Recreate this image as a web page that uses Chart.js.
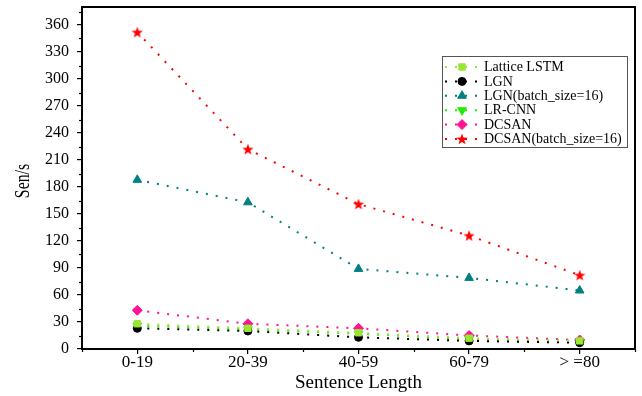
<!DOCTYPE html>
<html><head><meta charset="utf-8">
<script src="https://cdn.jsdelivr.net/npm/chart.js@4/dist/chart.umd.min.js"></script>
<style>html,body{margin:0;padding:0;background:#fff;}#wrap{width:642px;height:396px;}</style>
</head><body><div id="wrap"><canvas id="c" width="642" height="396"></canvas></div>
<script>
const categories = ['0-19', '20-39', '40-59', '60-79', '> =80'];
const latticeLSTM = [28, 23, 18, 12, 9];
const lgn = [23, 20, 13, 9, 7];
const lgnBatch16 = [188, 163, 89, 79, 65];
const lrCnn = [26, 22, 17, 11, 9];
const dcsan = [43, 28, 23, 15, 10];
const dcsanBatch16 = [352, 222, 161, 126, 82];
const yTicks = [0, 30, 60, 90, 120, 150, 180, 210, 240, 270, 300, 330, 360];
const seriesNames = ['Lattice LSTM', 'LGN', 'LGN(batch_size=16)', 'LR-CNN', 'DCSAN', 'DCSAN(batch_size=16)'];
const xTitle = 'Sentence Length';
const yTitle = 'Sen/s';

const SERIF = "'Liberation Serif', 'Times New Roman', serif";

function makeStar(color, size) {
  const c = document.createElement('canvas');
  c.width = size; c.height = size;
  const g = c.getContext('2d');
  g.fillStyle = color;
  g.beginPath();
  for (let i = 0; i < 10; i++) {
    const r = (i % 2) ? size * 0.2 : size * 0.5;
    const a = -Math.PI / 2 + i * Math.PI / 5;
    const x = size / 2 + r * Math.cos(a), y = size / 2 + 0.5 + r * Math.sin(a);
    if (i === 0) g.moveTo(x, y); else g.lineTo(x, y);
  }
  g.closePath(); g.fill();
  return c;
}
const starImg = makeStar('#ff0000', 12);

const styles = [
  {color: '#99e633', point: 'rect', radius: 4.5, rot: 0},
  {color: '#000000', point: 'circle', radius: 4, rot: 0},
  {color: '#008080', point: 'triangle', radius: 5, rot: 0},
  {color: '#22ee00', point: 'triangle', radius: 5, rot: 180},
  {color: '#ff1493', point: 'rectRot', radius: 5, rot: 0},
  {color: '#ff0000', point: starImg, radius: 6, rot: 0}
];
const seriesValues = [latticeLSTM, lgn, lgnBatch16, lrCnn, dcsan, dcsanBatch16];

const datasets = seriesValues.map((vals, i) => ({
  label: seriesNames[i],
  data: vals,
  borderColor: styles[i].color,
  backgroundColor: styles[i].color,
  pointBackgroundColor: styles[i].color,
  pointBorderColor: styles[i].color,
  pointBorderWidth: 1,
  pointStyle: styles[i].point,
  pointRadius: styles[i].radius,
  pointRotation: styles[i].rot,
  borderWidth: 2,
  borderDash: [2, 8],
  borderCapStyle: 'butt',
  tension: 0,
  fill: false
}));

function drawMarker(ctx, st, x, y) {
  if (Chart.helpers && Chart.helpers.drawPoint) {
    ctx.save();
    ctx.fillStyle = st.color; ctx.strokeStyle = st.color; ctx.lineWidth = 1;
    Chart.helpers.drawPoint(ctx, {pointStyle: st.point, radius: st.radius, rotation: st.rot, borderWidth: 1}, x, y);
    ctx.restore();
  }
}

const framePlugin = {
  id: 'frame',
  afterDraw(chart) {
    const ctx = chart.ctx, a = chart.chartArea;
    const xs = chart.scales.x, ys = chart.scales.y;
    ctx.save();
    ctx.strokeStyle = '#000'; ctx.lineWidth = 1.2;
    for (let i = 0; i < yTicks.length; i++) {
      const v = yTicks[i] + 15;
      if (v > ys.max) break;
      const py = Math.round(ys.getPixelForValue(v)) + 0.5;
      ctx.beginPath(); ctx.moveTo(a.left - 3, py); ctx.lineTo(a.left, py); ctx.stroke();
    }
    for (let i = 0; i <= categories.length; i++) {
      const px = Math.round(xs.getPixelForValue(i - 0.5)) + 0.5;
      ctx.beginPath(); ctx.moveTo(px, a.bottom); ctx.lineTo(px, a.bottom + 3); ctx.stroke();
    }
    ctx.lineWidth = 2;
    ctx.strokeRect(a.left, a.top, a.right - a.left, a.bottom - a.top);
    ctx.save();
    ctx.translate(23, 181);
    ctx.rotate(-Math.PI / 2);
    ctx.scale(0.72, 1);
    ctx.font = '22px ' + SERIF;
    ctx.fillStyle = '#000';
    ctx.textAlign = 'center'; ctx.textBaseline = 'middle';
    ctx.fillText(yTitle, 0, 0);
    ctx.restore();
    const lx = 442.5, ly = 56.5, lw = 185, lh = 91;
    ctx.fillStyle = '#fff';
    ctx.fillRect(lx, ly, lw, lh);
    ctx.strokeStyle = '#555'; ctx.lineWidth = 1;
    ctx.strokeRect(lx, ly, lw, lh);
    ctx.font = '14px ' + SERIF;
    ctx.textBaseline = 'middle'; ctx.textAlign = 'left';
    for (let i = 0; i < seriesNames.length; i++) {
      const ry = 67 + i * 14.4;
      const st = styles[i];
      ctx.save();
      ctx.strokeStyle = st.color; ctx.lineWidth = 2; ctx.setLineDash([2, 8]);
      ctx.lineDashOffset = -1;
      ctx.beginPath(); ctx.moveTo(444, ry); ctx.lineTo(481, ry); ctx.stroke();
      ctx.restore();
      drawMarker(ctx, st, 462, ry);
      ctx.fillStyle = '#000';
      ctx.fillText(seriesNames[i], 484, ry + 0.5);
    }
    ctx.restore();
  }
};

new Chart(document.getElementById('c'), {
  type: 'line',
  data: {labels: categories, datasets: datasets},
  options: {
    responsive: false,
    animation: false,
    devicePixelRatio: 1,
    layout: {padding: {top: 6, right: 6, left: 0, bottom: 0}},
    plugins: {legend: {display: false}, tooltip: {enabled: false}},
    scales: {
      x: {
        type: 'category',
        offset: true,
        grid: {display: true, drawOnChartArea: false, drawTicks: true, tickLength: 5, color: '#000', lineWidth: 1.2},
        border: {display: false},
        ticks: {color: '#000', font: {family: SERIF, size: 17}, padding: -2, maxRotation: 0},
        title: {display: true, text: xTitle, color: '#000', font: {family: SERIF, size: 19}, padding: {top: 0, bottom: 2}},
        afterFit(s) { s.height = 47; s.paddingLeft = 0; s.paddingRight = 0; }
      },
      y: {
        min: 0, max: 380,
        grid: {display: true, drawOnChartArea: false, drawTicks: true, tickLength: 5, color: '#000', lineWidth: 1.2},
        border: {display: false},
        ticks: {color: '#000', font: {family: SERIF, size: 16}, padding: 8},
        afterBuildTicks(s) { s.ticks = yTicks.map(v => ({value: v})); },
        afterFit(s) { s.width = 82; s.paddingTop = 0; s.paddingBottom = 0; }
      }
    }
  },
  plugins: [framePlugin]
});
</script></body></html>
